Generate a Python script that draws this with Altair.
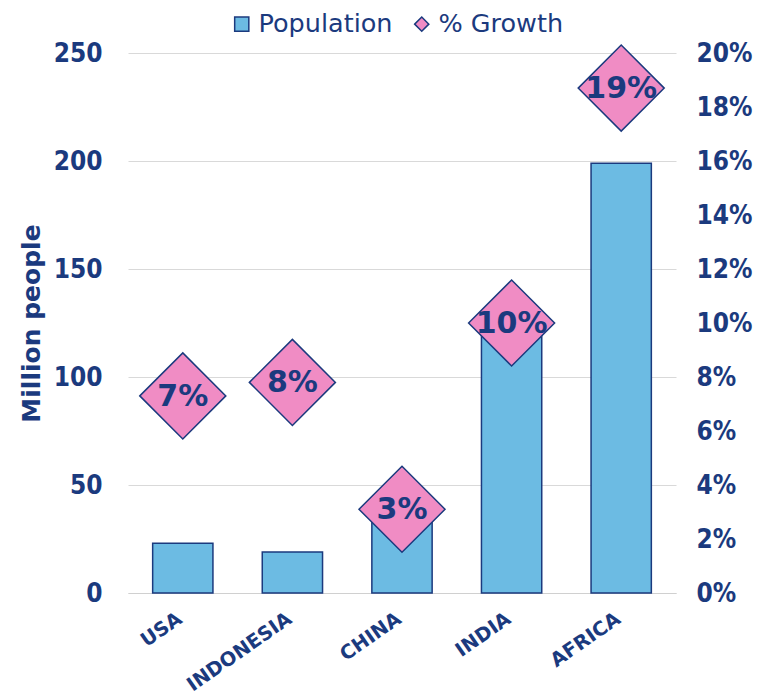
import altair as alt
import pandas as pd

regions = ["USA", "INDONESIA", "CHINA", "INDIA", "AFRICA"]
population = [23, 19, 35, 125, 199]
growth = [0.073, 0.078, 0.031, 0.100, 0.187]
series = ["Population", "% Growth"]

NAVY = "#1B3A7E"
BLUE = "#6CBBE3"
PINK = "#F08CC4"
FONT = "DejaVu Sans Condensed, DejaVu Sans"
WIDE = "DejaVu Sans"

df = pd.DataFrame({
    "region": regions,
    "population": population,
    "growth": growth,
    "s_pop": series[0],
    "s_gr": series[1],
})

x = alt.X("region:N", sort=regions, title=None,
          scale=alt.Scale(paddingInner=0.45, paddingOuter=0.225),
          axis=alt.Axis(labelAngle=-35, labelFontSize=19.5, labelFontWeight="bold",
                        labelColor=NAVY, labelFont=WIDE, ticks=False,
                        domainColor="#D0D0D0", labelPadding=16, labelOffset=-8))

color = alt.Color("series:N", scale=alt.Scale(domain=series, range=[BLUE, PINK]),
                  legend=alt.Legend(title=None, orient="none", direction="horizontal",
                                    legendX=101, legendY=-42,
                                    labelFontSize=25.5, labelColor=NAVY, labelFont=WIDE,
                                    symbolSize=200, symbolStrokeColor=NAVY,
                                    symbolStrokeWidth=1.5, columnPadding=16,
                                    labelOffset=4))
shape = alt.Shape("series:N", scale=alt.Scale(domain=series, range=["square", "diamond"]),
                  legend=None)

right_axis = alt.Axis(orient="right", format=".0%",
                      values=[0, 0.02, 0.04, 0.06, 0.08, 0.10, 0.12, 0.14, 0.16, 0.18, 0.20],
                      ticks=False, domain=False, grid=False,
                      labelFontSize=26, labelFontWeight="bold", labelColor=NAVY,
                      labelFont=FONT, labelPadding=20)

bars = alt.Chart(df).transform_calculate(series="datum.s_pop").mark_bar(
    stroke=NAVY, strokeWidth=1.5
).encode(
    x=x,
    y=alt.Y("population:Q", title="Million people",
            scale=alt.Scale(domain=[0, 250]),
            axis=alt.Axis(values=[0, 50, 100, 150, 200, 250], ticks=False, domain=False,
                          labelFontSize=26, labelFontWeight="bold", labelColor=NAVY,
                          labelFont=FONT, labelPadding=26, gridColor="#D9D9D9",
                          titleFontSize=25, titleFontWeight="bold", titleColor=NAVY,
                          titleFont=WIDE, titlePadding=9)),
    color=color,
)

points = alt.Chart(df).transform_calculate(series="datum.s_gr").mark_point(
    filled=True, stroke=NAVY, strokeWidth=1.5, size=7400, opacity=1
).encode(
    x=x,
    y=alt.Y("growth:Q", title=None, scale=alt.Scale(domain=[0, 0.2]), axis=right_axis),
    color=color,
    shape=shape,
)

labels = alt.Chart(df).mark_text(
    fontSize=30, fontWeight="bold", color=NAVY, font=WIDE, baseline="middle", dy=1
).encode(
    x=x,
    y=alt.Y("growth:Q", title=None, scale=alt.Scale(domain=[0, 0.2]), axis=right_axis),
    text=alt.Text("growth:Q", format=".0%"),
)

right = alt.layer(points, labels)

chart = alt.layer(bars, right).resolve_scale(y="independent").properties(
    width=548, height=540,
    padding={"left": 11, "top": 3, "right": 5, "bottom": 5},
).configure_view(stroke=None)

chart.save("out.html", embed_options={"renderer": "svg", "actions": False})
